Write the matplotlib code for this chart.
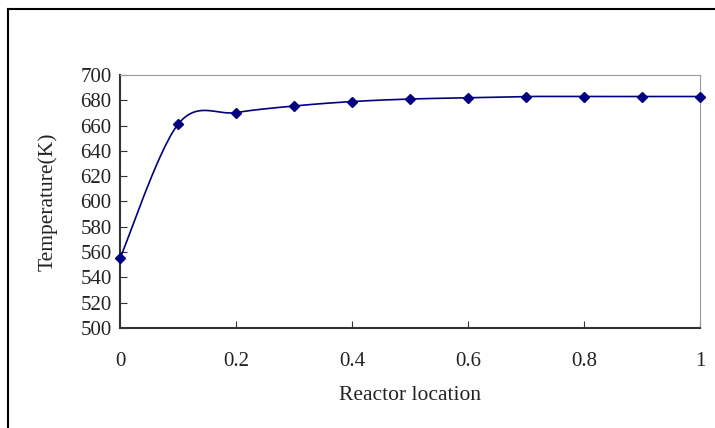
import numpy as np
import matplotlib.pyplot as plt
from matplotlib.lines import Line2D

# data
location = [0, 0.1, 0.2, 0.3, 0.4, 0.5, 0.6, 0.7, 0.8, 0.9, 1.0]
temperature = [555, 661, 670.3, 675.5, 679, 681, 682, 683, 683, 683, 683]
x_ticks = [0, 0.2, 0.4, 0.6, 0.8, 1]
x_labels = ['0', '0.2', '0.4', '0.6', '0.8', '1']
y_ticks = list(range(500, 701, 20))


# Excel-like smoothed line (cubic Bezier through points, Catmull-Rom tangents)
def smooth(xs, ys, n=30):
    p = np.column_stack([xs, ys]).astype(float)
    ext = np.vstack([p[0], p, p[-1]])
    out = []
    for i in range(len(p) - 1):
        p0, p1, p2, p3 = ext[i], ext[i + 1], ext[i + 2], ext[i + 3]
        c1 = p1 + (p2 - p0) / 6
        c2 = p2 - (p3 - p1) / 6
        t = np.linspace(0, 1, n)[:, None]
        seg = (1 - t) ** 3 * p1 + 3 * (1 - t) ** 2 * t * c1 + 3 * (1 - t) * t ** 2 * c2 + t ** 3 * p2
        out.append(seg if i == 0 else seg[1:])
    seg = np.vstack(out)
    return seg[:, 0], seg[:, 1]


plt.rcParams['font.family'] = ['Liberation Serif', 'DejaVu Serif']

fig = plt.figure(figsize=(7.15, 4.28), dpi=100)
ax = fig.add_axes([120 / 715, 1 - 328 / 428, 580 / 715, 253 / 428])

sx, sy = smooth(location, temperature)
ax.plot(sx, sy, color='#000080', lw=1.2, zorder=3)
ax.plot(location, temperature, ls='none', marker='D', ms=5.5, color='#000080', zorder=4,
        clip_on=False)

ax.set_xlim(0, 1)
ax.set_ylim(500, 700)
ax.set_xticks(x_ticks)
ax.set_xticklabels(x_labels)
ax.set_yticks(y_ticks)

ax.tick_params(axis='x', direction='in', length=5, pad=17, labelsize=15, color='#333333',
               labelcolor='#222222')
ax.tick_params(axis='y', direction='in', length=5, pad=6, labelsize=15, color='#333333',
               labelcolor='#222222')

ax.spines['left'].set_color('#333333')
ax.spines['bottom'].set_color('#333333')
ax.spines['left'].set_linewidth(1.5)
ax.spines['bottom'].set_linewidth(1.5)
ax.spines['top'].set_color('#999999')
ax.spines['right'].set_color('#999999')

ax.set_xlabel('Reactor location', fontsize=15.5, labelpad=11, color='#222222')
ax.set_ylabel('Temperature(K)', fontsize=15.5, labelpad=16, color='#222222')

# outer chart frame (only top and left edges visible)
fig.add_artist(Line2D([8 / 715, 8 / 715], [0, 1 - 9 / 428], color='black', lw=1.5,
                      transform=fig.transFigure))
fig.add_artist(Line2D([8 / 715, 1], [1 - 9 / 428, 1 - 9 / 428], color='black', lw=1.5,
                      transform=fig.transFigure))

fig.savefig('out.png', dpi=100)
